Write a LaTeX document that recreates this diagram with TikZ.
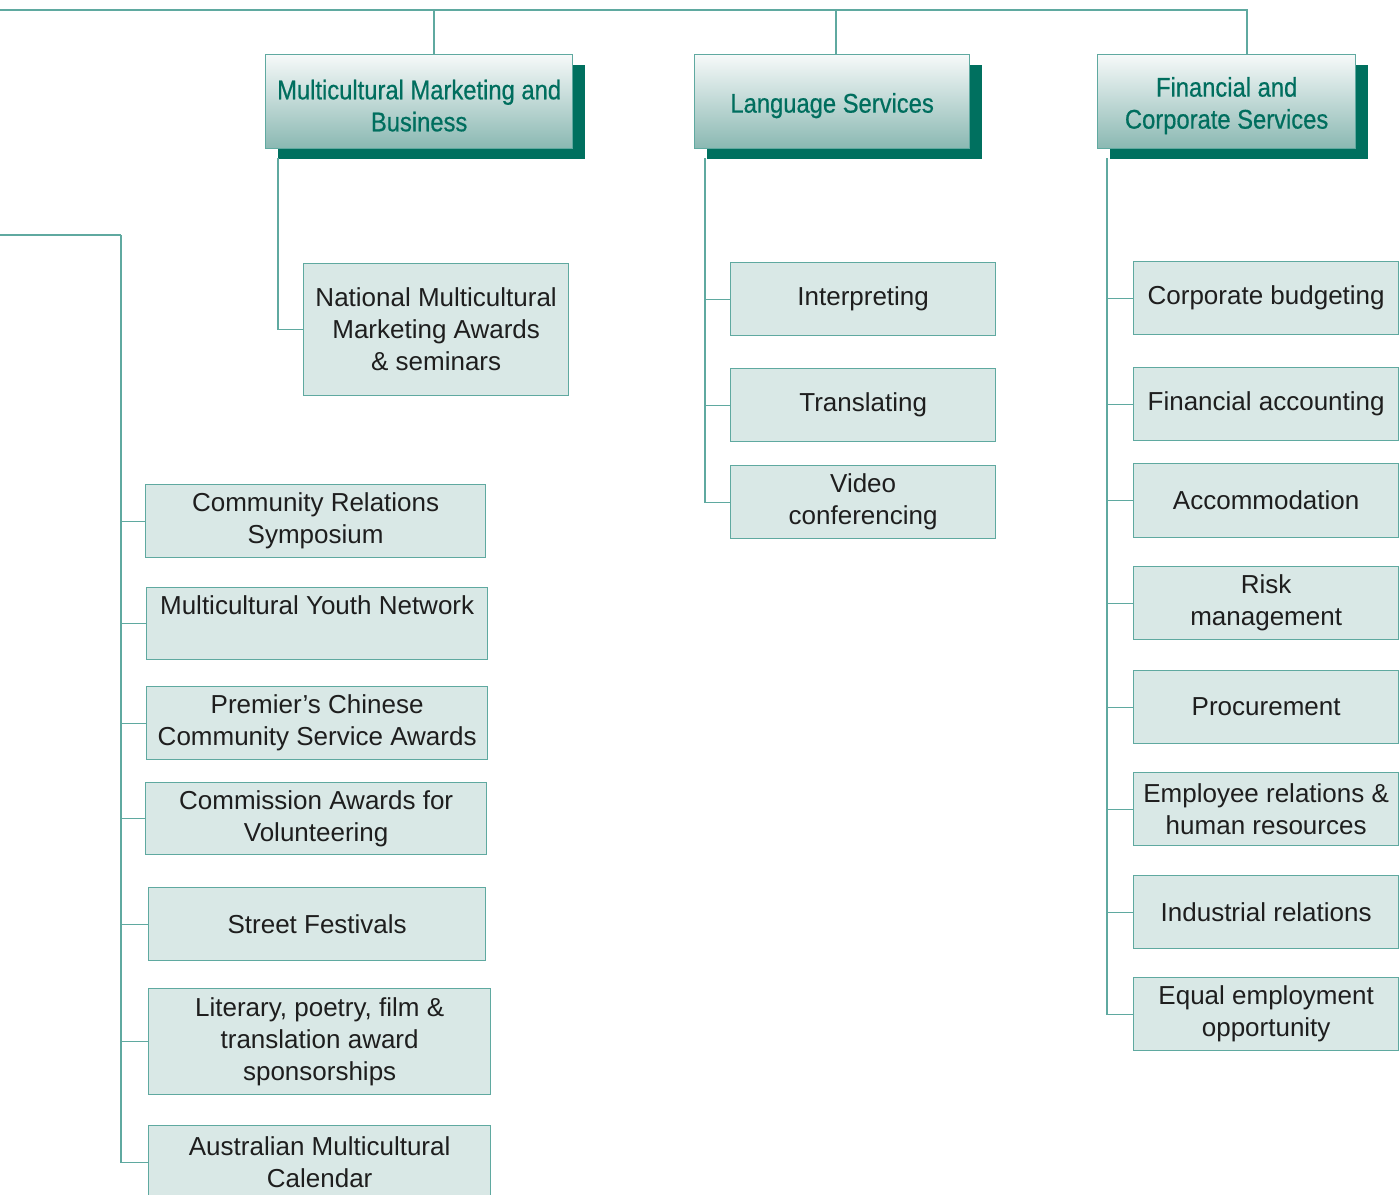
\documentclass[tikz,border=0pt]{standalone}
\usepackage{fontspec}
\setmainfont{Liberation Sans}
\newfontfamily\headfont[FakeStretch=0.88,FakeBold=0.6]{Liberation Sans}
\usetikzlibrary{shadows}
\definecolor{linkteal}{HTML}{5FA9A0}
\definecolor{shadeteal}{HTML}{00705F}
\definecolor{headtext}{HTML}{006E5E}
\definecolor{unitfill}{HTML}{D9E8E6}
\definecolor{headtop}{HTML}{F6F9F9}
\definecolor{headbottom}{HTML}{8AB8B2}
\definecolor{bodytext}{HTML}{1E1E1E}
% one header line, set a little lower
\newcommand{\headline}[1]{\raisebox{-4pt}[\height][\depth]{#1}}
\tikzset{
	link/.style={draw=linkteal, line width=1.3},
	unit/.style={draw=linkteal, line width=1.3, fill=unitfill, inner sep=0,
		anchor=north west, align=center, text=bodytext,
		font=\fontsize{26}{32}\selectfont},
	division/.style={draw=linkteal, line width=1.3, top color=headtop,
		bottom color=headbottom, inner sep=0, anchor=north west, align=center,
		text=headtext, font=\headfont\fontsize{27}{32}\selectfont,
		drop shadow={shadow xshift=12, shadow yshift=10, fill=shadeteal, opacity=1}},
}
\begin{document}
\begin{tikzpicture}[x=1pt, y=-1pt]
	% page: 1400 x 1194, y runs downwards
	\useasboundingbox (0,0) rectangle (1400,1194);
	
	% divisions
	\node[division, minimum width=307, minimum height=94] (mmb) at (265,54) {\headline{Multicultural Marketing and}\\\headline{Business}};
	\node[division, minimum width=275, minimum height=94] (lsv) at (694,54) {\headline{Language Services}};
	\node[division, minimum width=258, minimum height=94] (fcs) at (1097,54) {\headline{Financial and}\\\headline{Corporate Services}};
	
	% top line and drops
	\coordinate (top) at (0,10);
	\coordinate (drop1) at (434,54);
	\coordinate (drop2) at (836,54);
	\coordinate (drop3) at (1247,54);
	\draw[link] (top) -| (drop3);
	\draw[link] (drop1) -- (drop1 |- top);
	\draw[link] (drop2) -- (drop2 |- top);
	
	% multicultural marketing and business
	\node[unit, minimum width=265, minimum height=132] (nmma) at (303,263) {National Multicultural\\Marketing Awards\\\& seminars};
	\coordinate (mmbroot) at (278,158);
	\draw[link] (mmbroot) |- (nmma.west);
	
	% language services
	\node[unit, minimum width=265, minimum height=73] (interp) at (730,262) {Interpreting};
	\node[unit, minimum width=265, minimum height=73] (transl) at (730,368) {Translating};
	\node[unit, minimum width=265, minimum height=73] (video) at (730,465) {Video\\conferencing};
	\coordinate (lsvroot) at (705,158);
	\draw[link] (lsvroot) |- (interp.west);
	\draw[link] (lsvroot) |- (transl.west);
	\draw[link] (lsvroot) |- (video.west);
	
	% financial and corporate services
	\node[unit, minimum width=265, minimum height=73] (budget) at (1133,261) {Corporate budgeting};
	\node[unit, minimum width=265, minimum height=73] (account) at (1133,367) {Financial accounting};
	\node[unit, minimum width=265, minimum height=74] (accom) at (1133,463) {Accommodation};
	\node[unit, minimum width=265, minimum height=73] (risk) at (1133,566) {Risk\\management};
	\node[unit, minimum width=265, minimum height=73] (procure) at (1133,670) {Procurement};
	\node[unit, minimum width=265, minimum height=73] (employ) at (1133,772) {Employee relations \&\\human resources};
	\node[unit, minimum width=265, minimum height=73] (indust) at (1133,875) {Industrial relations};
	\node[unit, minimum width=265, minimum height=73] (equal) at (1133,977) {Equal employment\\opportunity};
	\coordinate (fcsroot) at (1107,158);
	\foreach \u in {budget,account,accom,risk,procure,employ,indust,equal}
		\draw[link] (fcsroot) |- (\u.west);
	
	% community relations (left branch)
	\node[unit, minimum width=340, minimum height=73] (crs) at (145,484) {Community Relations\\Symposium};
	\node[unit, minimum width=341, minimum height=72] (myn) at (146,587) {\raisebox{3pt}[\height][\depth]{Multicultural Youth Network}\\\mbox{}};
	\node[unit, minimum width=341, minimum height=73] (pcsa) at (146,686) {Premier’s Chinese\\Community Service Awards};
	\node[unit, minimum width=341, minimum height=72] (cav) at (145,782) {Commission Awards for\\Volunteering};
	\node[unit, minimum width=337, minimum height=73] (stf) at (148,887) {Street Festivals};
	\node[unit, minimum width=342, minimum height=106] (lit) at (148,988) {Literary, poetry, film \&\\translation award\\sponsorships};
	\node[unit, minimum width=342, minimum height=73] (amc) at (148,1125) {Australian Multicultural\\Calendar};
	\coordinate (crin) at (0,235);
	\coordinate (crroot) at (121,235);
	\draw[link] (crin) -- (crroot);
	\foreach \u in {crs,myn,pcsa,cav,stf,lit,amc}
		\draw[link] (crroot) |- (\u.west);
	
\end{tikzpicture}
\end{document}
